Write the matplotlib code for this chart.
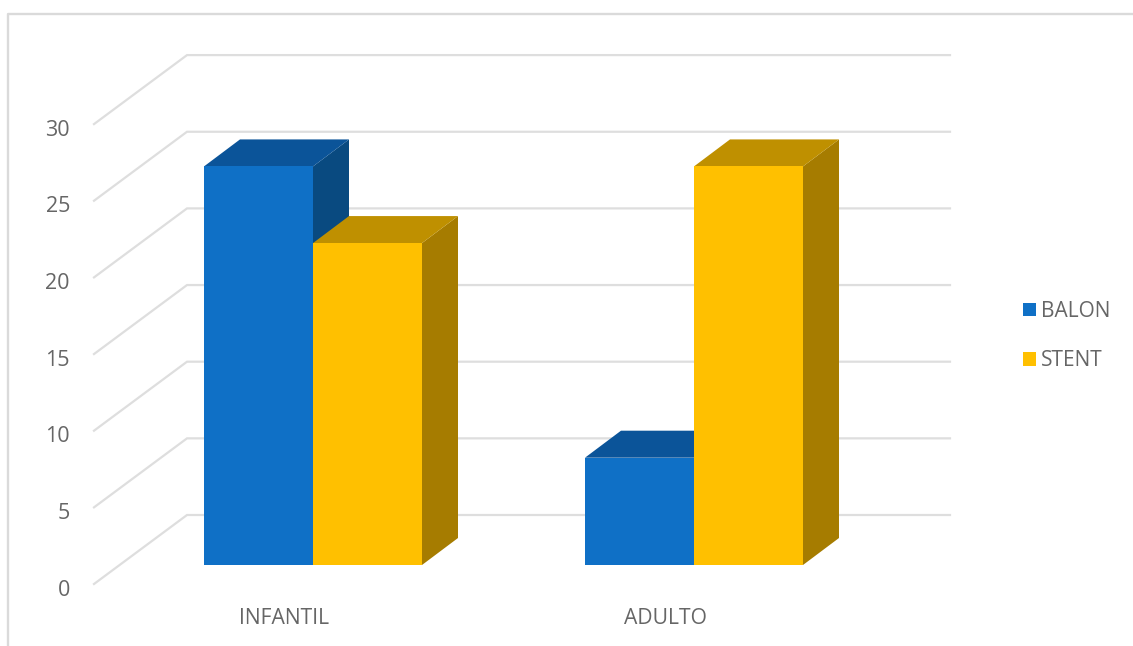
import numpy as np
import matplotlib
matplotlib.use("Agg")
import matplotlib.pyplot as plt
from matplotlib.lines import Line2D
from matplotlib.patches import Polygon

categories = ["INFANTIL", "ADULTO"]
balon = [26, 7]
stent = [21, 26]
y_ticks = [0, 5, 10, 15, 20, 25, 30]

plt.rcParams['font.family'] = ['Open Sans', 'DejaVu Sans']

W, H = 1133, 646
#pixels per unit on the two axes
px_x = 381.0
px_y = 15.33
#where x=0, y=0 of the front of the bars sit in the picture
x0_px = 313
y0_px = 565

TEXT = "#666666"
GRID = "#dedede"

fig = plt.figure(figsize=(W / 100, H / 100), dpi=100)
ax = fig.add_axes([0, 0, 1, 1])
ax.set_xlim(-x0_px / px_x, (W - x0_px) / px_x)
ax.set_ylim((y0_px - H) / px_y, y0_px / px_y)
ax.axis("off")

#outer frame of the chart
fig.add_artist(Line2D([8 / W, 8 / W, 1], [0, 1 - 13.5 / H, 1 - 13.5 / H],
                      color="#dadada", lw=1.7))

#floor and back wall gridlines
floor_y = -19 / px_y
wall_dx = 93 / px_x
wall_dy = 69 / px_y
front_x = (94 - x0_px) / px_x
right_x = (950 - x0_px) / px_x
for t in y_ticks:
    y = t + floor_y
    ax.plot([front_x, front_x + wall_dx, right_x],
            [y, y + wall_dy, y + wall_dy],
            color=GRID, lw=1.6, solid_joinstyle="miter", zorder=1)
    ax.text(70 / px_x - x0_px / px_x, y - 6 / px_y, str(t), ha="right", va="center",
            fontsize=15.5, color=TEXT)

#bars
bar_w = 109 / px_x
depth_x = 36 / px_x
depth_y = 27 / px_y


def bar3d(x, v, face, top, side, z, label=None):
    left = x
    right = x + bar_w
    ax.add_patch(Polygon([(right, 0), (right + depth_x, depth_y),
                          (right + depth_x, v + depth_y), (right, v)],
                         fc=side, ec="none", zorder=z))
    ax.add_patch(Polygon([(left, v), (left + depth_x, v + depth_y),
                          (right + depth_x, v + depth_y), (right, v)],
                         fc=top, ec="none", zorder=z))
    return ax.bar(x, v, width=bar_w, align="edge", color=face, zorder=z + 0.1,
                  label=label)


for i, cat in enumerate(categories):
    h1 = bar3d(i - bar_w, balon[i], "#0f70c6", "#0b5499", "#094a80", 2 + i * 0.5,
               "BALON" if i == 0 else None)
    h2 = bar3d(i, stent[i], "#ffc000", "#bf9000", "#a67c00", 2.2 + i * 0.5,
               "STENT" if i == 0 else None)
    ax.text(i - 29 / px_x, (y0_px - 619) / px_y, cat, ha="center", va="center",
            fontsize=15.2, color=TEXT)

leg = ax.legend(loc="center left", bbox_to_anchor=(1023 / W, 1 - 336 / H),
                frameon=False, fontsize=15, labelcolor=TEXT, handlelength=0.63,
                handleheight=0.63, handletextpad=0.25, labelspacing=1.36,
                borderpad=0, borderaxespad=0)

plt.savefig("out.png", dpi=100)
